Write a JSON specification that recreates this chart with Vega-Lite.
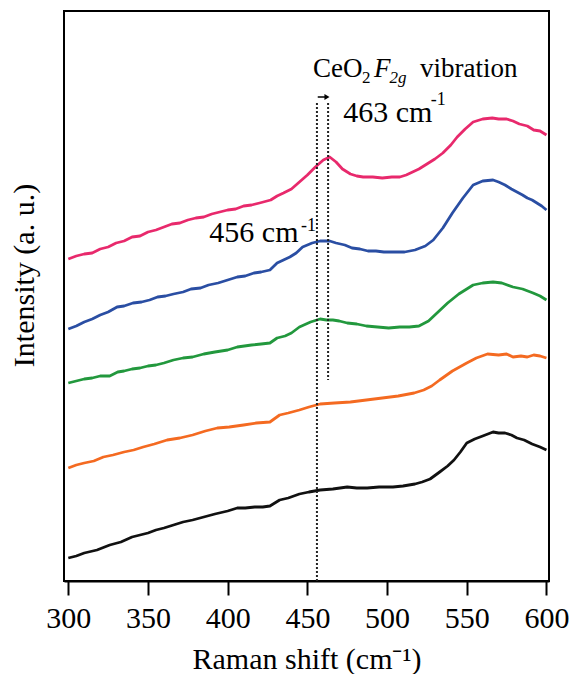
{
  "$schema": "https://vega.github.io/schema/vega-lite/v6.json",
  "width": 485,
  "height": 570,
  "autosize": {"type": "none"},
  "padding": {"left": 64, "top": 11, "right": 23, "bottom": 93},
  "background": "white",
  "config": {
    "view": {"stroke": "black", "strokeWidth": 2},
    "font": "Liberation Serif",
    "axis": {
      "labelFont": "Liberation Serif",
      "titleFont": "Liberation Serif",
      "labelColor": "black",
      "titleColor": "black",
      "titleFontWeight": "normal",
      "grid": false
    },
    "text": {"font": "Liberation Serif", "color": "black", "align": "left", "baseline": "alphabetic"}
  },
  "datasets": {
    "spectra": [
      {"sample": "E", "shift": 300, "intensity": 322}, {"sample": "E", "shift": 305, "intensity": 325}, {"sample": "E", "shift": 310, "intensity": 327}, {"sample": "E", "shift": 315, "intensity": 328}, {"sample": "E", "shift": 320, "intensity": 332}, {"sample": "E", "shift": 325, "intensity": 334}, {"sample": "E", "shift": 330, "intensity": 338}, {"sample": "E", "shift": 335, "intensity": 340}, {"sample": "E", "shift": 340, "intensity": 344}, {"sample": "E", "shift": 345, "intensity": 345}, {"sample": "E", "shift": 350, "intensity": 349}, {"sample": "E", "shift": 355, "intensity": 351}, {"sample": "E", "shift": 360, "intensity": 354}, {"sample": "E", "shift": 365, "intensity": 357}, {"sample": "E", "shift": 370, "intensity": 358}, {"sample": "E", "shift": 375, "intensity": 361}, {"sample": "E", "shift": 380, "intensity": 363}, {"sample": "E", "shift": 385, "intensity": 364}, {"sample": "E", "shift": 390, "intensity": 367}, {"sample": "E", "shift": 395, "intensity": 369}, {"sample": "E", "shift": 400, "intensity": 371}, {"sample": "E", "shift": 405, "intensity": 372}, {"sample": "E", "shift": 410, "intensity": 375}, {"sample": "E", "shift": 415, "intensity": 376}, {"sample": "E", "shift": 420, "intensity": 378}, {"sample": "E", "shift": 427, "intensity": 381}, {"sample": "E", "shift": 431, "intensity": 385}, {"sample": "E", "shift": 435, "intensity": 388}, {"sample": "E", "shift": 440, "intensity": 392}, {"sample": "E", "shift": 445, "intensity": 399}, {"sample": "E", "shift": 450, "intensity": 406}, {"sample": "E", "shift": 455, "intensity": 414}, {"sample": "E", "shift": 460, "intensity": 421}, {"sample": "E", "shift": 464, "intensity": 424}, {"sample": "E", "shift": 468, "intensity": 419}, {"sample": "E", "shift": 472, "intensity": 412}, {"sample": "E", "shift": 477, "intensity": 407}, {"sample": "E", "shift": 481, "intensity": 405}, {"sample": "E", "shift": 485, "intensity": 404}, {"sample": "E", "shift": 491, "intensity": 404}, {"sample": "E", "shift": 497, "intensity": 403}, {"sample": "E", "shift": 503, "intensity": 404}, {"sample": "E", "shift": 508, "intensity": 404}, {"sample": "E", "shift": 512, "intensity": 406}, {"sample": "E", "shift": 516, "intensity": 409}, {"sample": "E", "shift": 520, "intensity": 412}, {"sample": "E", "shift": 525, "intensity": 417}, {"sample": "E", "shift": 530, "intensity": 422}, {"sample": "E", "shift": 535, "intensity": 428}, {"sample": "E", "shift": 540, "intensity": 436}, {"sample": "E", "shift": 544, "intensity": 444}, {"sample": "E", "shift": 549, "intensity": 452}, {"sample": "E", "shift": 554, "intensity": 459}, {"sample": "E", "shift": 560, "intensity": 462}, {"sample": "E", "shift": 566, "intensity": 463}, {"sample": "E", "shift": 570, "intensity": 462}, {"sample": "E", "shift": 575, "intensity": 462}, {"sample": "E", "shift": 579, "intensity": 460}, {"sample": "E", "shift": 583, "intensity": 457}, {"sample": "E", "shift": 588, "intensity": 455}, {"sample": "E", "shift": 592, "intensity": 451}, {"sample": "E", "shift": 596, "intensity": 450}, {"sample": "E", "shift": 600, "intensity": 446},

      {"sample": "D", "shift": 300, "intensity": 252}, {"sample": "D", "shift": 305, "intensity": 255}, {"sample": "D", "shift": 310, "intensity": 259}, {"sample": "D", "shift": 315, "intensity": 262}, {"sample": "D", "shift": 320, "intensity": 266}, {"sample": "D", "shift": 325, "intensity": 269}, {"sample": "D", "shift": 330.6, "intensity": 274}, {"sample": "D", "shift": 335, "intensity": 275}, {"sample": "D", "shift": 340.6, "intensity": 278}, {"sample": "D", "shift": 346, "intensity": 279}, {"sample": "D", "shift": 351, "intensity": 281}, {"sample": "D", "shift": 356, "intensity": 284}, {"sample": "D", "shift": 361, "intensity": 285}, {"sample": "D", "shift": 366, "intensity": 287}, {"sample": "D", "shift": 372, "intensity": 289}, {"sample": "D", "shift": 377, "intensity": 292}, {"sample": "D", "shift": 383, "intensity": 293}, {"sample": "D", "shift": 388, "intensity": 296}, {"sample": "D", "shift": 394, "intensity": 298}, {"sample": "D", "shift": 400, "intensity": 301}, {"sample": "D", "shift": 406, "intensity": 304}, {"sample": "D", "shift": 411, "intensity": 305}, {"sample": "D", "shift": 416.5, "intensity": 308}, {"sample": "D", "shift": 421, "intensity": 309}, {"sample": "D", "shift": 426.5, "intensity": 311}, {"sample": "D", "shift": 431, "intensity": 318}, {"sample": "D", "shift": 435, "intensity": 321}, {"sample": "D", "shift": 439, "intensity": 324}, {"sample": "D", "shift": 443, "intensity": 328}, {"sample": "D", "shift": 447, "intensity": 334}, {"sample": "D", "shift": 453, "intensity": 338}, {"sample": "D", "shift": 458, "intensity": 340}, {"sample": "D", "shift": 464, "intensity": 340}, {"sample": "D", "shift": 468, "intensity": 338}, {"sample": "D", "shift": 473.5, "intensity": 336}, {"sample": "D", "shift": 478, "intensity": 333}, {"sample": "D", "shift": 483, "intensity": 332}, {"sample": "D", "shift": 488, "intensity": 330}, {"sample": "D", "shift": 493, "intensity": 330}, {"sample": "D", "shift": 498, "intensity": 329}, {"sample": "D", "shift": 504, "intensity": 329}, {"sample": "D", "shift": 511, "intensity": 329}, {"sample": "D", "shift": 517.5, "intensity": 331}, {"sample": "D", "shift": 524, "intensity": 335}, {"sample": "D", "shift": 529, "intensity": 341}, {"sample": "D", "shift": 535, "intensity": 353}, {"sample": "D", "shift": 541, "intensity": 368}, {"sample": "D", "shift": 547.6, "intensity": 383}, {"sample": "D", "shift": 554, "intensity": 396}, {"sample": "D", "shift": 560, "intensity": 400}, {"sample": "D", "shift": 566.5, "intensity": 401}, {"sample": "D", "shift": 570, "intensity": 399}, {"sample": "D", "shift": 574, "intensity": 396}, {"sample": "D", "shift": 578, "intensity": 392}, {"sample": "D", "shift": 581.5, "intensity": 389}, {"sample": "D", "shift": 585, "intensity": 386}, {"sample": "D", "shift": 588, "intensity": 383}, {"sample": "D", "shift": 591, "intensity": 381}, {"sample": "D", "shift": 594, "intensity": 378}, {"sample": "D", "shift": 597, "intensity": 375}, {"sample": "D", "shift": 600, "intensity": 371},

      {"sample": "C", "shift": 300, "intensity": 198}, {"sample": "C", "shift": 305, "intensity": 200}, {"sample": "C", "shift": 310, "intensity": 202}, {"sample": "C", "shift": 315, "intensity": 203}, {"sample": "C", "shift": 320, "intensity": 205}, {"sample": "C", "shift": 326, "intensity": 205}, {"sample": "C", "shift": 331, "intensity": 209}, {"sample": "C", "shift": 335, "intensity": 210}, {"sample": "C", "shift": 340, "intensity": 212}, {"sample": "C", "shift": 345, "intensity": 213}, {"sample": "C", "shift": 350, "intensity": 215}, {"sample": "C", "shift": 355, "intensity": 216}, {"sample": "C", "shift": 360, "intensity": 218}, {"sample": "C", "shift": 366, "intensity": 221}, {"sample": "C", "shift": 372, "intensity": 223}, {"sample": "C", "shift": 378, "intensity": 224}, {"sample": "C", "shift": 385, "intensity": 227}, {"sample": "C", "shift": 392, "intensity": 229}, {"sample": "C", "shift": 400, "intensity": 231}, {"sample": "C", "shift": 406, "intensity": 234}, {"sample": "C", "shift": 415, "intensity": 236}, {"sample": "C", "shift": 421, "intensity": 237}, {"sample": "C", "shift": 426.5, "intensity": 238}, {"sample": "C", "shift": 431, "intensity": 243}, {"sample": "C", "shift": 436, "intensity": 245}, {"sample": "C", "shift": 440, "intensity": 248}, {"sample": "C", "shift": 445, "intensity": 254}, {"sample": "C", "shift": 452, "intensity": 259}, {"sample": "C", "shift": 458, "intensity": 262}, {"sample": "C", "shift": 462, "intensity": 261}, {"sample": "C", "shift": 466, "intensity": 261}, {"sample": "C", "shift": 470, "intensity": 260}, {"sample": "C", "shift": 475, "intensity": 258}, {"sample": "C", "shift": 481, "intensity": 257}, {"sample": "C", "shift": 487, "intensity": 255}, {"sample": "C", "shift": 494, "intensity": 254}, {"sample": "C", "shift": 501, "intensity": 253}, {"sample": "C", "shift": 508, "intensity": 254}, {"sample": "C", "shift": 514, "intensity": 254}, {"sample": "C", "shift": 520, "intensity": 255}, {"sample": "C", "shift": 526, "intensity": 260}, {"sample": "C", "shift": 532, "intensity": 269}, {"sample": "C", "shift": 538, "intensity": 278}, {"sample": "C", "shift": 545, "intensity": 287}, {"sample": "C", "shift": 550, "intensity": 292}, {"sample": "C", "shift": 554, "intensity": 296}, {"sample": "C", "shift": 560, "intensity": 298}, {"sample": "C", "shift": 566.5, "intensity": 299}, {"sample": "C", "shift": 572, "intensity": 298}, {"sample": "C", "shift": 579, "intensity": 294}, {"sample": "C", "shift": 585, "intensity": 292}, {"sample": "C", "shift": 591.6, "intensity": 288}, {"sample": "C", "shift": 596, "intensity": 285}, {"sample": "C", "shift": 600, "intensity": 281},

      {"sample": "B", "shift": 300, "intensity": 113}, {"sample": "B", "shift": 305, "intensity": 116}, {"sample": "B", "shift": 310, "intensity": 118}, {"sample": "B", "shift": 316, "intensity": 120}, {"sample": "B", "shift": 322, "intensity": 124}, {"sample": "B", "shift": 328, "intensity": 126}, {"sample": "B", "shift": 335, "intensity": 129}, {"sample": "B", "shift": 341, "intensity": 131}, {"sample": "B", "shift": 347, "intensity": 134}, {"sample": "B", "shift": 354, "intensity": 137}, {"sample": "B", "shift": 362, "intensity": 141}, {"sample": "B", "shift": 370, "intensity": 143}, {"sample": "B", "shift": 378, "intensity": 146}, {"sample": "B", "shift": 386, "intensity": 150}, {"sample": "B", "shift": 393.5, "intensity": 153}, {"sample": "B", "shift": 401, "intensity": 154}, {"sample": "B", "shift": 410, "intensity": 156}, {"sample": "B", "shift": 418, "intensity": 158}, {"sample": "B", "shift": 426.5, "intensity": 159}, {"sample": "B", "shift": 432.6, "intensity": 166}, {"sample": "B", "shift": 438, "intensity": 168}, {"sample": "B", "shift": 445, "intensity": 171}, {"sample": "B", "shift": 451, "intensity": 174}, {"sample": "B", "shift": 458, "intensity": 177}, {"sample": "B", "shift": 467, "intensity": 178}, {"sample": "B", "shift": 477, "intensity": 179}, {"sample": "B", "shift": 487, "intensity": 181}, {"sample": "B", "shift": 497, "intensity": 183}, {"sample": "B", "shift": 507, "intensity": 185}, {"sample": "B", "shift": 517, "intensity": 188}, {"sample": "B", "shift": 523, "intensity": 191}, {"sample": "B", "shift": 528, "intensity": 195}, {"sample": "B", "shift": 533, "intensity": 201}, {"sample": "B", "shift": 541, "intensity": 210}, {"sample": "B", "shift": 550, "intensity": 218}, {"sample": "B", "shift": 556, "intensity": 223}, {"sample": "B", "shift": 563, "intensity": 227}, {"sample": "B", "shift": 570, "intensity": 226}, {"sample": "B", "shift": 575, "intensity": 227}, {"sample": "B", "shift": 579, "intensity": 224}, {"sample": "B", "shift": 584, "intensity": 225}, {"sample": "B", "shift": 588, "intensity": 224}, {"sample": "B", "shift": 592, "intensity": 226}, {"sample": "B", "shift": 596, "intensity": 225}, {"sample": "B", "shift": 600, "intensity": 223},

      {"sample": "A", "shift": 300, "intensity": 23}, {"sample": "A", "shift": 305, "intensity": 25}, {"sample": "A", "shift": 310, "intensity": 28}, {"sample": "A", "shift": 318, "intensity": 31}, {"sample": "A", "shift": 326, "intensity": 36}, {"sample": "A", "shift": 333, "intensity": 39}, {"sample": "A", "shift": 340, "intensity": 44}, {"sample": "A", "shift": 345, "intensity": 46}, {"sample": "A", "shift": 350, "intensity": 48}, {"sample": "A", "shift": 355, "intensity": 51}, {"sample": "A", "shift": 360, "intensity": 53}, {"sample": "A", "shift": 366, "intensity": 56}, {"sample": "A", "shift": 372, "intensity": 59}, {"sample": "A", "shift": 378, "intensity": 61}, {"sample": "A", "shift": 385, "intensity": 64}, {"sample": "A", "shift": 392, "intensity": 67}, {"sample": "A", "shift": 400, "intensity": 70}, {"sample": "A", "shift": 406, "intensity": 73}, {"sample": "A", "shift": 411, "intensity": 73}, {"sample": "A", "shift": 417, "intensity": 74}, {"sample": "A", "shift": 422, "intensity": 74}, {"sample": "A", "shift": 426.5, "intensity": 75}, {"sample": "A", "shift": 432.6, "intensity": 81}, {"sample": "A", "shift": 438, "intensity": 83}, {"sample": "A", "shift": 445, "intensity": 87}, {"sample": "A", "shift": 451, "intensity": 89}, {"sample": "A", "shift": 458, "intensity": 91}, {"sample": "A", "shift": 466, "intensity": 92}, {"sample": "A", "shift": 475, "intensity": 94}, {"sample": "A", "shift": 481, "intensity": 93}, {"sample": "A", "shift": 487.5, "intensity": 93}, {"sample": "A", "shift": 495, "intensity": 94}, {"sample": "A", "shift": 503.7, "intensity": 94}, {"sample": "A", "shift": 510, "intensity": 95}, {"sample": "A", "shift": 517.5, "intensity": 97}, {"sample": "A", "shift": 522, "intensity": 99}, {"sample": "A", "shift": 527, "intensity": 102}, {"sample": "A", "shift": 533, "intensity": 109}, {"sample": "A", "shift": 538, "intensity": 115}, {"sample": "A", "shift": 542, "intensity": 121}, {"sample": "A", "shift": 546, "intensity": 129}, {"sample": "A", "shift": 550, "intensity": 138}, {"sample": "A", "shift": 555, "intensity": 142}, {"sample": "A", "shift": 560, "intensity": 145}, {"sample": "A", "shift": 566.5, "intensity": 149}, {"sample": "A", "shift": 570, "intensity": 148}, {"sample": "A", "shift": 574, "intensity": 148}, {"sample": "A", "shift": 578, "intensity": 146}, {"sample": "A", "shift": 581.5, "intensity": 143}, {"sample": "A", "shift": 586, "intensity": 141}, {"sample": "A", "shift": 591, "intensity": 137}, {"sample": "A", "shift": 596, "intensity": 134}, {"sample": "A", "shift": 600, "intensity": 131}
    ]
  },
  "layer": [
    {
      "data": {"name": "spectra"},
      "mark": {"type": "line", "strokeWidth": 2.8, "strokeJoin": "round"},
      "encoding": {
        "x": {
          "field": "shift",
          "type": "quantitative",
          "scale": {"domain": [297.3, 601.6], "nice": false, "zero": false},
          "axis": {
            "values": [300, 350, 400, 450, 500, 550, 600],
            "tickSize": 14,
            "tickWidth": 2,
            "tickColor": "black",
            "domainColor": "black",
            "domainWidth": 2,
            "labelFont": "Liberation Serif",
            "labelFontSize": 30,
            "labelPadding": 8,
            "labelFlush": false,
            "title": "Raman shift (cm⁻¹)",
            "titleFont": "Liberation Serif",
            "titleFontSize": 30,
            "titlePadding": 11
          }
        },
        "y": {
          "field": "intensity",
          "type": "quantitative",
          "scale": {"domain": [0, 570], "nice": false, "zero": false},
          "axis": {
            "domain": false,
            "ticks": false,
            "labels": false,
            "title": "Intensity (a. u.)",
            "titleFont": "Liberation Serif",
            "titleFontSize": 30,
            "titleAngle": -90,
            "titleAlign": "center",
            "titleBaseline": "alphabetic",
            "titleX": -31,
            "titleY": 264
          }
        },
        "color": {
          "field": "sample",
          "type": "nominal",
          "legend": null,
          "scale": {
            "domain": ["A", "B", "C", "D", "E"],
            "range": ["#111111", "#f46a21", "#22983d", "#2a4ea3", "#e8296c"]
          }
        }
      }
    },
    {
      "data": {"values": [
        {"shift": 456, "top": 478, "bottom": 0},
        {"shift": 463, "top": 478, "bottom": 201}
      ]},
      "mark": {"type": "rule", "color": "#222222", "strokeWidth": 2, "strokeDash": [2, 2]},
      "encoding": {
        "x": {"field": "shift", "type": "quantitative"},
        "y": {"field": "top", "type": "quantitative"},
        "y2": {"field": "bottom"}
      }
    },
    {
      "data": {"values": [{"from": 456.5, "to": 461.5, "level": 484}]},
      "mark": {"type": "rule", "color": "black", "strokeWidth": 1.5},
      "encoding": {
        "x": {"field": "from", "type": "quantitative"},
        "x2": {"field": "to"},
        "y": {"field": "level", "type": "quantitative"}
      }
    },
    {
      "data": {"values": [{"shift": 462.3, "level": 484}]},
      "mark": {"type": "point", "shape": "triangle-right", "filled": true, "color": "black", "size": 34, "opacity": 1},
      "encoding": {
        "x": {"field": "shift", "type": "quantitative"},
        "y": {"field": "level", "type": "quantitative"}
      }
    },
    {
      "data": {"values": [
        {"shift": 472.5, "level": 459, "label": "463 cm"},
        {"shift": 388.5, "level": 339, "label": "456 cm"}
      ]},
      "mark": {"type": "text", "font": "Liberation Serif", "fontSize": 30},
      "encoding": {
        "x": {"field": "shift", "type": "quantitative"},
        "y": {"field": "level", "type": "quantitative"},
        "text": {"field": "label"}
      }
    },
    {
      "data": {"values": [
        {"shift": 527.4, "level": 476, "label": "-1"},
        {"shift": 446, "level": 350, "label": "-1"}
      ]},
      "mark": {"type": "text", "font": "Liberation Serif", "fontSize": 18},
      "encoding": {
        "x": {"field": "shift", "type": "quantitative"},
        "y": {"field": "level", "type": "quantitative"},
        "text": {"field": "label"}
      }
    },
    {
      "data": {"values": [
        {"shift": 453.5, "level": 504, "label": "CeO"},
        {"shift": 520.6, "level": 504, "label": "vibration"}
      ]},
      "mark": {"type": "text", "font": "Liberation Serif", "fontSize": 27},
      "encoding": {
        "x": {"field": "shift", "type": "quantitative"},
        "y": {"field": "level", "type": "quantitative"},
        "text": {"field": "label"}
      }
    },
    {
      "data": {"values": [{"shift": 484.2, "level": 498, "label": "2"}]},
      "mark": {"type": "text", "font": "Liberation Serif", "fontSize": 17},
      "encoding": {
        "x": {"field": "shift", "type": "quantitative"},
        "y": {"field": "level", "type": "quantitative"},
        "text": {"field": "label"}
      }
    },
    {
      "data": {"values": [{"shift": 491.8, "level": 504, "label": "F"}]},
      "mark": {"type": "text", "font": "Liberation Serif", "fontSize": 27, "fontStyle": "italic"},
      "encoding": {
        "x": {"field": "shift", "type": "quantitative"},
        "y": {"field": "level", "type": "quantitative"},
        "text": {"field": "label"}
      }
    },
    {
      "data": {"values": [{"shift": 501.6, "level": 498, "label": "2g"}]},
      "mark": {"type": "text", "font": "Liberation Serif", "fontSize": 17, "fontStyle": "italic"},
      "encoding": {
        "x": {"field": "shift", "type": "quantitative"},
        "y": {"field": "level", "type": "quantitative"},
        "text": {"field": "label"}
      }
    }
  ]
}
